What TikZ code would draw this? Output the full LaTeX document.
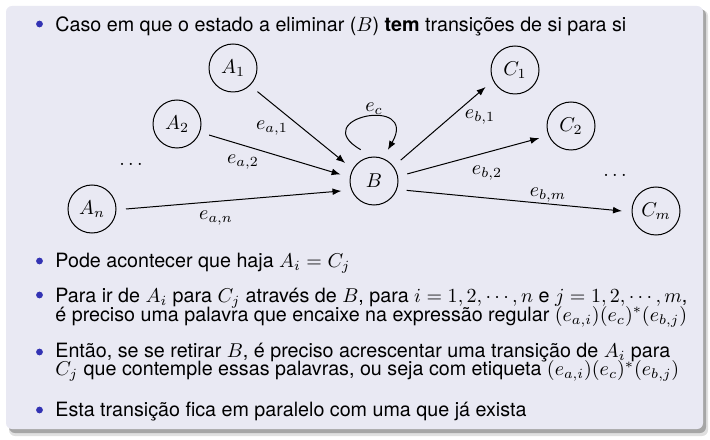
\documentclass[tikz,border=0pt]{standalone}
\usepackage[no-math]{fontspec}
\setmainfont{TeX Gyre Heros}
\usetikzlibrary{arrows.meta}
\definecolor{blockbg}{RGB}{233,233,243}
\definecolor{bulletblue}{RGB}{51,51,179}
\tikzset{
  st/.style={draw, circle, minimum size=24pt, inner sep=0pt, outer sep=5pt, line width=0.5pt},
  tr/.style={-{Latex[length=4.5pt,width=3.4pt]}, line width=0.5pt},
  bul/.style={circle, fill=bulletblue, inner sep=0pt, minimum size=3.4pt},
  ln/.style={anchor=base west, inner sep=0pt},
}
\begin{document}
\begin{tikzpicture}[x=0.5pt, y=0.5pt, font=\fontsize{9.85}{11}\selectfont]
  \useasboundingbox (0,0) rectangle (710,439);
  % Block and its shadow
  \fill[black!12, rounded corners=3pt] (9,3) rectangle (708,429);
  \fill[black!35, rounded corners=3pt] (9,6) rectangle (706,430);
  \fill[blockbg, rounded corners=3pt] (6,10) rectangle (703,433);

  % First item
  \node[bul] (b1) at (39.5,415) {};
  \node[ln] (t1) at (55,407.3) {Caso em que o estado a eliminar ($B$) \textbf{tem} transições de si para si};

  % States
  \node[st] (A1) at (233,371) {$A_1$};
  \node[st] (A2) at (177,315) {$A_2$};
  \node[st] (An) at (92,230) {$A_n$};
  \node[st] (B) at (374,258) {$B$};
  \node[st] (C1) at (515,369) {$C_1$};
  \node[st] (C2) at (571,313) {$C_2$};
  \node[st] (Cm) at (656,228) {$C_m$};
  \node (dl) at (131,275) {$\dots$};
  \node (dr) at (615,264) {$\dots$};

  % Transitions
  \draw[tr] (A1.-44) -- (B.148);
  \draw[tr] (A2.-19) -- (B.169);
  \draw[tr] (An.0) -- (B.197);
  \draw[tr] (B.38) -- (C1.210);
  \draw[tr] (B.12) -- (C2.201);
  \draw[tr] (B.-16) -- (Cm.180);
  \draw[tr] (B.113) to[out=150, in=60, looseness=6] (B.66);

  % Labels
  \node (ea1) at (272,311) {$e_{a,1}$};
  \node (ea2) at (243,277) {$e_{a,2}$};
  \node (ean) at (216,221) {$e_{a,n}$};
  \node (ec) at (374,330) {$e_c$};
  \node (eb1) at (480,322) {$e_{b,1}$};
  \node (eb2) at (487,266) {$e_{b,2}$};
  \node (ebm) at (548,244) {$e_{b,m}$};

  % Other items
  \node[bul] (b2) at (39.5,178) {};
  \node[ln] (t2) at (55,171.7) {Pode acontecer que haja $A_i = C_j$};
  \node[bul] (b3) at (39.5,144) {};
  \node[ln] (t3) at (55,136.3) {Para ir de $A_i$ para $C_j$ através de $B$, para $i = 1, 2, \cdots, n$ e $j = 1, 2, \cdots, m$,};
  \node[ln] (t4) at (55,118) {é preciso uma palavra que encaixe na expressão regular $(e_{a,i})(e_c)^*(e_{b,j})$};
  \node[bul] (b4) at (39.5,87) {};
  \node[ln] (t5) at (55,81.7) {Então, se se retirar $B$, é preciso acrescentar uma transição de $A_i$ para};
  \node[ln] (t6) at (55,63.3) {$C_j$ que contemple essas palavras, ou seja com etiqueta $(e_{a,i})(e_c)^*(e_{b,j})$};
  \node[bul] (b5) at (39.5,29) {};
  \node[ln] (t7) at (55,23) {Esta transição fica em paralelo com uma que já exista};
\end{tikzpicture}
\end{document}
